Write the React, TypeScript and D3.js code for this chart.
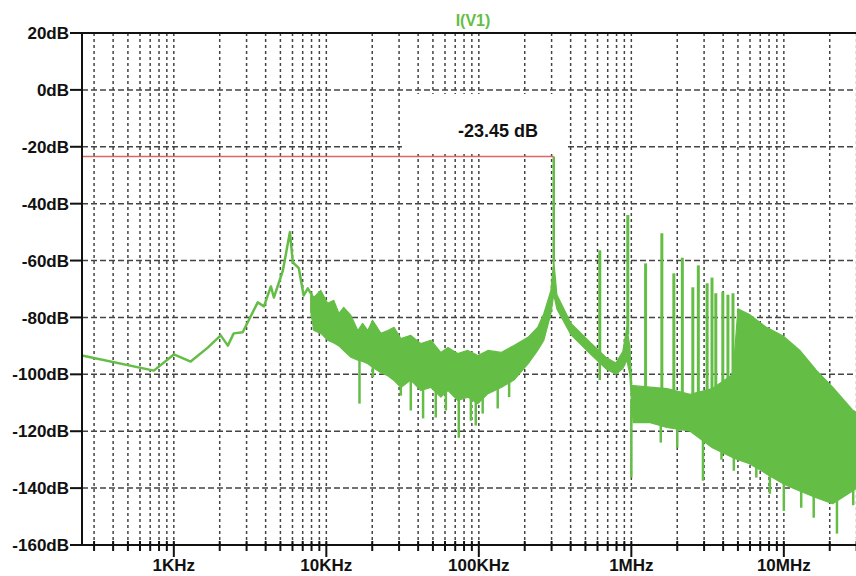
import React from "react";
import * as d3 from "d3";

// low-frequency trace (Hz, dB)
const lowFreq = [250, 740, 1000, 1290, 1670, 2030, 2260, 2470, 2830, 3550, 3900, 4330, 4530, 5190, 5770, 6030, 6600, 7100, 7560, 7900];
const lowDb = [-93.4, -98.7, -93, -95.5, -90.6, -86.3, -89.9, -85.6, -85.2, -74.7, -76.1, -69.1, -73, -63.5, -50, -60.6, -62.7, -72.3, -69.8, -71.5];

// noise band envelope (Hz, upper dB, lower dB)
const bandFreq = [7900, 8280, 9200, 10200, 11200, 12100, 13000, 14500, 16100, 17300, 18700, 20100, 22800, 25300, 27800, 30800, 35800, 41700, 48400, 56300, 62800, 72800, 84700, 98600, 114700, 140000, 170000, 210000, 243000, 267000, 297000, 310000, 325000, 401000, 542000, 680000, 791000, 879000, 934000, 977000, 1007000, 1030000, 1330000, 1710000, 2430000, 3400000, 4640000, 5000000, 5950000, 7700000, 9900000, 12700000, 16300000, 20900000, 28200000, 30000000];
const bandTop = [-71, -73, -70.5, -75, -74, -78.6, -76.5, -79.3, -84.6, -82.1, -84.6, -81, -85.6, -84.6, -83.5, -87.4, -86.3, -89.2, -88, -92.3, -90.6, -92.7, -91.6, -93.4, -91.6, -92.3, -89.9, -87, -83.5, -78.6, -70.5, -60, -72, -82, -89, -94, -96, -92, -83.5, -90, -104, -104, -104.5, -105, -107, -105, -100, -77, -79, -83.5, -86.5, -91.5, -98.5, -104.5, -112.5, -113.5];
const bandBottom = [-78, -84.6, -85.6, -88, -89, -90, -91.6, -94, -95, -95.5, -96.3, -97.5, -99.4, -100.5, -102.2, -104.6, -102, -105.7, -104.6, -108, -105.7, -109.2, -108, -110.3, -106.8, -104.6, -102, -96.3, -91.6, -88, -78.6, -72, -77, -86, -93, -98, -100, -98, -95, -100, -112, -117, -117, -118.7, -120, -125.8, -129.3, -130, -131.4, -135, -138.5, -141, -143.4, -145.5, -141, -140];

// harmonic peaks (Hz, dB)
const spikeFreq = [310000, 621000, 948000, 1240000, 1585000, 1900000, 2160000, 2530000, 2750000, 3140000, 3380000, 3580000, 3980000, 4300000, 4640000];
const spikeDb = [-23.45, -56.4, -44, -61, -50.4, -64.5, -59, -69.4, -61.7, -68, -66, -71.5, -71, -72, -71.5];

// downward notches (Hz, dB)
const dipFreq = [16500, 20200, 30800, 35800, 43100, 52200, 60800, 73900, 88700, 95500, 106000, 133000, 158000, 621000, 1000000, 1560000, 2000000, 2950000, 3900000, 4700000, 6600000, 8100000, 10000000, 13000000, 15700000, 22300000, 28500000];
const dipDb = [-110.3, -101, -107.5, -112.7, -115.5, -115.2, -112.7, -122.3, -116.3, -118, -113.8, -112, -108, -102, -136.3, -124, -125.8, -137.4, -130, -133.9, -136.3, -142, -148, -146.9, -150.4, -156, -146];

const yTicks = [20, 0, -20, -40, -60, -80, -100, -120, -140, -160];
const xLabelFreq = [1e3, 1e4, 1e5, 1e6, 1e7];
const xLabelText = ["1KHz", "10KHz", "100KHz", "1MHz", "10MHz"];

const markerDb = -23.45;
const markerFreq = 310000;

const GREEN = "#64be46";
const FONT = "'Liberation Sans', Arial, sans-serif";

const x = d3.scaleLog().domain([250, 30e6]).range([82, 856.6]);
const y = d3.scaleLinear().domain([-160, 20]).range([545, 33]);

// envelope value at frequency f (only used to place the foot of a spike/notch)
const envAt = (vals: number[], f: number) => {
  const i = Math.max(0, d3.bisectRight(bandFreq, f) - 1);
  if (i >= bandFreq.length - 1) return vals[vals.length - 1];
  const t = (Math.log(f) - Math.log(bandFreq[i])) / (Math.log(bandFreq[i + 1]) - Math.log(bandFreq[i]));
  return vals[i] + t * (vals[i + 1] - vals[i]);
};

export default function App() {
  const gridFreqs: number[] = [];
  for (let k = 2; k <= 7; k++) {
    for (let m = 1; m <= 9; m++) {
      const f = m * Math.pow(10, k);
      if (f > 250 && f <= 30e6) gridFreqs.push(f);
    }
  }

  const lowLine = d3
    .line<number>()
    .x((_, i) => x(lowFreq[i]))
    .y((d) => y(d))(lowDb);

  const band = d3
    .area<number>()
    .x((f) => x(f))
    .y0((_, i) => y(bandBottom[i]))
    .y1((_, i) => y(bandTop[i]))(bandFreq);

  return (
    <svg width={856} height={576} style={{ position: "absolute", left: 0, top: 0, background: "#fff" }}>
      {/* grid */}
      <g stroke="#444" strokeWidth={1.5}>
        {gridFreqs.map((f) => (
          <line key={"v" + f} x1={x(f)} x2={x(f)} y1={33} y2={545} strokeDasharray="3,3" />
        ))}
        {yTicks.slice(1, -1).map((v) => (
          <line key={"h" + v} x1={82} x2={856} y1={y(v)} y2={y(v)} strokeDasharray="6,3" />
        ))}
      </g>

      {/* label box */}
      <rect x={402} y={94} width={166} height={60} fill="#fff" />

      {/* spectrum */}
      <path d={band ?? ""} fill={GREEN} stroke={GREEN} strokeWidth={1.2} strokeLinejoin="round" />
      <g stroke={GREEN}>
        {dipFreq.map((f, i) => (
          <line key={"d" + i} x1={x(f)} x2={x(f)} y1={y(envAt(bandBottom, f)) - 1} y2={y(dipDb[i])} strokeWidth={2.5} />
        ))}
        {spikeFreq.map((f, i) => (
          <line key={"s" + i} x1={x(f)} x2={x(f)} y1={y(envAt(bandTop, f)) + 1} y2={y(spikeDb[i])} strokeWidth={i === 0 ? 2.5 : 3} />
        ))}
      </g>
      <path d={lowLine ?? ""} fill="none" stroke={GREEN} strokeWidth={2.5} strokeLinejoin="round" />

      {/* marker */}
      <line x1={82} x2={x(markerFreq)} y1={y(markerDb)} y2={y(markerDb)} stroke="#e06666" strokeWidth={1.5} />
      <text x={498} y={137} textAnchor="middle" fontFamily={FONT} fontWeight="bold" fontSize={18} fill="#111">
        {`${markerDb} dB`}
      </text>

      {/* axes */}
      <g stroke="#111" strokeWidth={2}>
        <line x1={82} x2={856} y1={33} y2={33} />
        <line x1={82} x2={856} y1={545} y2={545} />
        <line x1={82} x2={82} y1={32} y2={546} />
        {yTicks.map((v) => (
          <line key={"yt" + v} x1={70} x2={82} y1={y(v)} y2={y(v)} />
        ))}
        {gridFreqs.map((f) => (
          <line key={"xt" + f} x1={x(f)} x2={x(f)} y1={541} y2={xLabelFreq.includes(f) ? 557 : 551} />
        ))}
      </g>
      <g fontFamily={FONT} fontWeight="bold" fontSize={17} fill="#111">
        {yTicks.map((v) => (
          <text key={"yl" + v} x={69} y={y(v)} dy="0.36em" textAnchor="end">
            {`${v}dB`}
          </text>
        ))}
        {xLabelFreq.map((f, i) => (
          <text key={"xl" + f} x={x(f)} y={571} textAnchor="middle">
            {xLabelText[i]}
          </text>
        ))}
      </g>
      <text x={473} y={26} textAnchor="middle" fontFamily={FONT} fontWeight="bold" fontSize={16} fill={GREEN}>
        I(V1)
      </text>
    </svg>
  );
}
